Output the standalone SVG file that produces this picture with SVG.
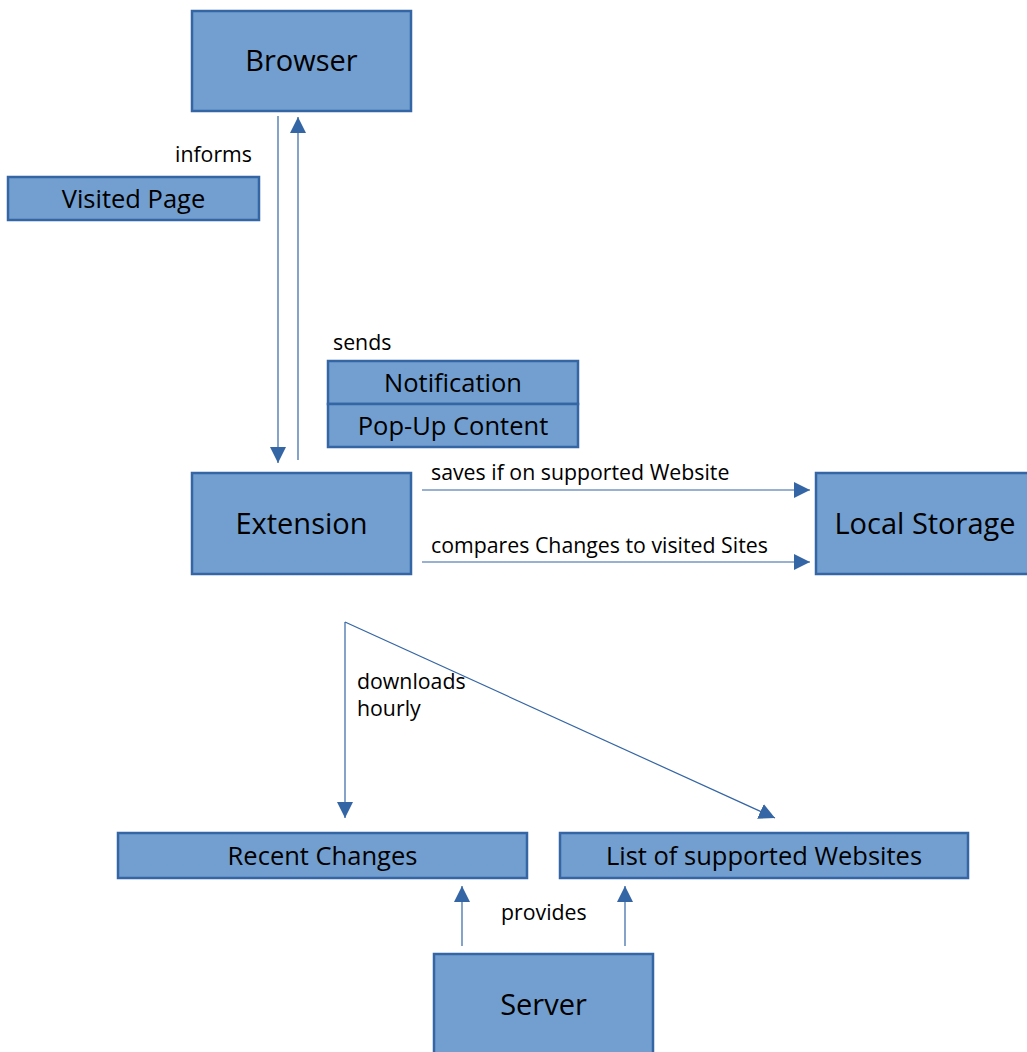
<svg xmlns="http://www.w3.org/2000/svg" width="1027" height="1052" viewBox="0 0 1027 1052">
<style>
.box{fill:#729fcf;stroke:#3465a4;stroke-width:2.5}
.big{font-family:"Open Sans","Noto Sans",sans-serif;font-size:29px;fill:#000;text-anchor:middle}
.mid{font-family:"Open Sans","Noto Sans",sans-serif;font-size:25.5px;fill:#000;text-anchor:middle}
.lbl{font-family:"Open Sans","Noto Sans",sans-serif;font-size:21.3px;fill:#000}
.con{stroke:#3465a4;stroke-width:1.2;fill:none;marker-end:url(#ah)}
</style>
<defs>
<marker id="ah" viewBox="0 0 10 10" refX="10" refY="5" markerWidth="16" markerHeight="16" markerUnits="userSpaceOnUse" orient="auto">
<path d="M0,0 L10,5 L0,10 z" fill="#3465a4"/>
</marker>
</defs>
<rect width="1027" height="1052" fill="#fff"/>
<g id="connectors">
<line class="con" x1="278" y1="116" x2="278" y2="463"/>
<line class="con" x1="298" y1="460" x2="298" y2="117"/>
<line class="con" x1="422" y1="490" x2="810" y2="490"/>
<line class="con" x1="422" y1="562" x2="810" y2="562"/>
<polyline class="con" points="345,622 775,818"/>
<line class="con" x1="345" y1="622" x2="345" y2="818"/>
<line class="con" x1="462" y1="946" x2="462" y2="886"/>
<line class="con" x1="625" y1="946" x2="625" y2="886"/>
</g>
<g id="labels">
<text class="lbl" x="175" y="162">informs</text>
<text class="lbl" x="333" y="350">sends</text>
<text class="lbl" x="431" y="480">saves if on supported Website</text>
<text class="lbl" x="431" y="553">compares Changes to visited Sites</text>
<text class="lbl" x="357" y="689">downloads</text>
<text class="lbl" x="357" y="716">hourly</text>
<text class="lbl" x="501" y="920">provides</text>
</g>
<g id="browser"><rect class="box" x="192" y="11" width="219" height="100"/><text class="big" x="301.5" y="71">Browser</text></g>
<g id="visited-page"><rect class="box" x="8" y="177" width="251" height="43"/><text class="mid" x="133.5" y="208">Visited Page</text></g>
<g id="notification"><rect class="box" x="328" y="361" width="250" height="43"/><text class="mid" x="453" y="392">Notification</text></g>
<g id="popup-content"><rect class="box" x="328" y="404" width="250" height="43"/><text class="mid" x="453" y="435">Pop-Up Content</text></g>
<g id="extension"><rect class="box" x="192" y="473" width="219" height="101"/><text class="big" x="301.5" y="534">Extension</text></g>
<g id="local-storage"><rect class="box" x="816" y="473" width="220" height="101"/><text class="big" x="925" y="534">Local Storage</text></g>
<g id="recent-changes"><rect class="box" x="118" y="833" width="409" height="45"/><text class="mid" x="322.5" y="865">Recent Changes</text></g>
<g id="supported-list"><rect class="box" x="560" y="833" width="408" height="45"/><text class="mid" x="764" y="865">List of supported Websites</text></g>
<g id="server"><rect class="box" x="434" y="954" width="219" height="110"/><text class="big" x="543.5" y="1015">Server</text></g>
</svg>
